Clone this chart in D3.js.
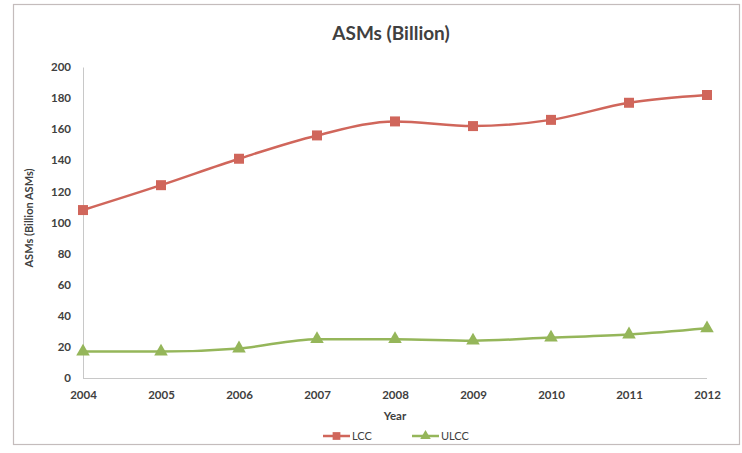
<!DOCTYPE html>
<html><head><meta charset="utf-8">
<script src="https://cdn.jsdelivr.net/npm/d3@7"></script>
<style>body{margin:0;background:#fff}svg{display:block}</style>
</head><body>
<svg id="chart" width="742" height="453"></svg>
<script>
const years = ["2004","2005","2006","2007","2008","2009","2010","2011","2012"];
const lcc  = [108, 124, 141, 156, 165, 162, 166, 177, 182];
const ulcc = [17, 17, 19, 25, 25, 24, 26, 28, 32];
const yTicks = [0, 20, 40, 60, 80, 100, 120, 140, 160, 180, 200];
const seriesNames = ["LCC", "ULCC"];
const colors = ["#d0665b", "#95b65a"];

const svg = d3.select("#chart");
const font = "Lato, 'Open Sans', sans-serif";
const txt = "#404040";

svg.append("rect").attr("x",13.5).attr("y",4.5).attr("width",726).attr("height",440)
  .attr("fill","#fff").attr("stroke","#c4bcbc").attr("stroke-width",1.2);

const x = d3.scalePoint().domain(years).range([83, 707]);
const y = d3.scaleLinear().domain([0, 200]).range([378, 67]);

// axes
const yAxis = svg.append("g").attr("transform","translate(83,0)")
  .call(d3.axisLeft(y).tickValues(yTicks).tickSize(0).tickPadding(12));
yAxis.select(".domain").attr("stroke","#c8c8c8");
yAxis.selectAll("text").attr("font-family",font).attr("font-weight","bold")
  .attr("font-size","11.5px").attr("fill",txt);

const xAxis = svg.append("g").attr("transform","translate(0,378)")
  .call(d3.axisBottom(x).tickSize(0).tickPadding(13));
xAxis.select(".domain").attr("stroke","#c8c8c8").attr("d","M83,0.5H707");
xAxis.selectAll("text").attr("font-family",font).attr("font-weight","bold")
  .attr("font-size","11.5px").attr("fill",txt);

// title & axis labels
svg.append("text").attr("x",391).attr("y",40).attr("text-anchor","middle")
  .attr("font-family",font).attr("font-weight","bold").attr("font-size","19px")
  .attr("fill",txt).text("ASMs (Billion)");
svg.append("text").attr("transform","translate(33,218) rotate(-90)").attr("text-anchor","middle")
  .attr("font-family",font).attr("font-weight","bold").attr("font-size","11px")
  .attr("fill",txt).text("ASMs (Billion ASMs)");
svg.append("text").attr("x",395).attr("y",420).attr("text-anchor","middle")
  .attr("font-family",font).attr("font-weight","bold").attr("font-size","11.5px")
  .attr("fill",txt).text("Year");

const line = d3.line().x((d,i)=>x(years[i])).y(d=>y(d)).curve(d3.curveMonotoneX);
const data = [lcc, ulcc];
const sym = [d3.symbolSquare, d3.symbolTriangle];
const symSize = [100, 80];

data.forEach((s, k) => {
  svg.append("path").datum(s).attr("d", line).attr("fill","none")
    .attr("stroke", colors[k]).attr("stroke-width", 2.5);
  svg.selectAll(".m"+k).data(s).enter().append("path")
    .attr("transform",(d,i)=>`translate(${x(years[i])},${y(d)})`)
    .attr("d", d3.symbol().type(sym[k]).size(symSize[k])).attr("fill", colors[k]);
});

// legend
const legX = [323, 412];
seriesNames.forEach((n,k)=>{
  const g = svg.append("g").attr("transform",`translate(${legX[k]},436)`);
  g.append("line").attr("x1",0).attr("x2",27).attr("stroke",colors[k]).attr("stroke-width",2.5);
  g.append("path").attr("transform","translate(13.5,0)")
    .attr("d", d3.symbol().type(sym[k]).size(symSize[k]*0.6)).attr("fill",colors[k]);
  g.append("text").attr("x",29).attr("y",4).attr("font-family",font)
    .attr("font-size","11px").attr("fill",txt).text(n);
});
</script>
</body></html>
